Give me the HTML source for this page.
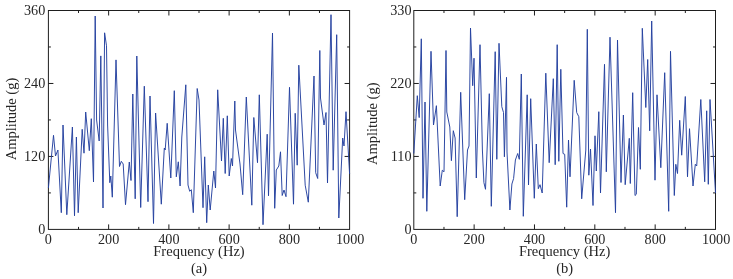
<!DOCTYPE html>
<html><head><meta charset="utf-8"><title>Amplitude vs Frequency</title>
<style>
html,body{margin:0;padding:0;background:#fff;}
svg{display:block}
text{font-family:"Liberation Serif","Times New Roman",serif;font-size:14.2px;fill:#262626;}
.t{font-size:14.5px}
</style></head><body>
<svg width="733" height="279" viewBox="0 0 733 279">
<rect width="733" height="279" fill="#fff"/>
<rect x="48.4" y="10.5" width="301.2" height="218.9" fill="none" stroke="#1e1e1e" stroke-width="1"/>
<path d="M78.52 229.4v-2.5M78.52 10.5v2.5M108.64 229.4v-5M108.64 10.5v5M138.76 229.4v-2.5M138.76 10.5v2.5M168.88 229.4v-5M168.88 10.5v5M199.00 229.4v-2.5M199.00 10.5v2.5M229.12 229.4v-5M229.12 10.5v5M259.24 229.4v-2.5M259.24 10.5v2.5M289.36 229.4v-5M289.36 10.5v5M319.48 229.4v-2.5M319.48 10.5v2.5M48.4 192.92h2.5M349.6 192.92h-2.5M48.4 156.43h5M349.6 156.43h-5M48.4 119.95h2.5M349.6 119.95h-2.5M48.4 83.47h5M349.6 83.47h-5M48.4 46.98h2.5M349.6 46.98h-2.5" stroke="#1e1e1e" stroke-width="1" fill="none"/>
<polyline points="48.4,188.0 53.5,135.3 55.5,156.0 57.9,150.0 61.3,212.7 63.0,125.0 66.8,214.7 72.4,127.0 74.5,215.8 76.4,137.0 78.2,212.7 82.2,129.3 84.0,153.2 85.7,112.0 89.3,150.7 91.3,118.7 93.5,182.0 95.2,16.0 96.6,120.0 99.2,141.0 100.8,55.9 103.0,208.0 104.6,32.8 106.5,45.8 107.6,125.0 109.8,182.7 110.8,176.0 112.3,197.2 116.0,59.9 119.5,166.5 121.3,161.3 123.2,164.0 125.5,204.7 129.3,162.0 131.0,180.5 132.8,94.0 135.2,198.8 136.8,56.0 140.7,207.5 144.3,86.2 148.0,201.7 150.0,96.0 153.5,223.5 155.6,113.0 161.3,204.2 164.3,148.0 165.2,150.0 167.2,123.3 170.8,178.0 174.3,90.7 176.3,176.8 178.3,161.8 180.1,186.0 181.8,137.0 185.8,84.8 188.0,185.0 189.7,191.3 191.3,189.7 193.3,212.7 197.2,88.5 199.0,100.0 203.0,207.7 204.7,156.8 206.7,222.7 208.3,185.0 210.2,210.0 213.8,171.0 215.5,188.0 217.7,89.8 221.5,161.0 223.3,118.3 225.2,173.5 227.3,115.8 229.2,176.0 231.3,158.5 232.5,166.0 233.6,135.0 234.8,101.0 235.5,130.0 240.0,164.0 242.7,194.7 246.3,97.0 251.8,205.2 253.8,117.5 257.5,162.7 259.3,94.8 263.0,224.7 267.2,134.2 268.5,195.8 272.5,33.0 274.7,208.3 276.3,170.0 278.8,166.0 280.5,151.8 282.2,195.5 284.0,190.0 286.0,196.7 289.5,87.3 293.5,204.2 295.2,113.3 297.2,165.2 298.8,65.2 305.2,185.2 308.3,202.2 314.0,76.0 315.7,172.7 317.7,178.5 319.8,50.5 320.5,98.0 324.0,125.0 326.0,112.5 327.5,183.0 331.0,14.7 333.2,170.2 336.7,34.7 338.8,218.0 342.7,138.0 344.0,146.0 346.0,111.7 349.6,174.0" fill="none" stroke="#24409f" stroke-width="0.95" stroke-linejoin="round"/>
<text x="48.4" y="243.6" text-anchor="middle">0</text>
<text x="108.6" y="243.6" text-anchor="middle">200</text>
<text x="168.9" y="243.6" text-anchor="middle">400</text>
<text x="229.1" y="243.6" text-anchor="middle">600</text>
<text x="289.4" y="243.6" text-anchor="middle">800</text>
<text x="350.2" y="243.6" text-anchor="middle">1000</text>
<text x="45.3" y="234.2" text-anchor="end">0</text>
<text x="45.3" y="161.3" text-anchor="end">120</text>
<text x="45.3" y="88.3" text-anchor="end">240</text>
<text x="45.3" y="15.3" text-anchor="end">360</text>
<text x="199.0" y="256.4" text-anchor="middle" class="t">Frequency (Hz)</text>
<text x="199.0" y="272.5" text-anchor="middle" class="t">(a)</text>
<text transform="translate(16.1,119.0) rotate(-90)" text-anchor="middle" class="t">Amplitude (g)</text>
<rect x="413.8" y="10.5" width="301.7" height="218.9" fill="none" stroke="#1e1e1e" stroke-width="1"/>
<path d="M443.97 229.4v-2.5M443.97 10.5v2.5M474.14 229.4v-5M474.14 10.5v5M504.31 229.4v-2.5M504.31 10.5v2.5M534.48 229.4v-5M534.48 10.5v5M564.65 229.4v-2.5M564.65 10.5v2.5M594.82 229.4v-5M594.82 10.5v5M624.99 229.4v-2.5M624.99 10.5v2.5M655.16 229.4v-5M655.16 10.5v5M685.33 229.4v-2.5M685.33 10.5v2.5M413.8 192.92h2.5M715.5 192.92h-2.5M413.8 156.43h5M715.5 156.43h-5M413.8 119.95h2.5M715.5 119.95h-2.5M413.8 83.47h5M715.5 83.47h-5M413.8 46.98h2.5M715.5 46.98h-2.5" stroke="#1e1e1e" stroke-width="1" fill="none"/>
<polyline points="413.8,153.5 417.3,95.7 419.2,117.6 421.3,38.8 423.0,198.3 425.0,102.0 426.8,211.3 431.0,51.3 433.5,125.0 436.4,105.7 440.2,186.0 442.3,170.2 444.0,171.8 446.0,50.5 446.8,112.0 449.8,127.0 451.4,160.7 453.3,130.7 455.1,138.0 457.2,216.7 460.7,92.3 464.7,199.7 467.5,150.0 469.0,146.0 470.5,28.0 472.7,85.7 474.0,58.2 476.3,178.0 480.0,44.7 482.4,150.0 483.9,182.6 485.5,189.3 489.3,93.7 491.3,206.3 495.2,51.7 496.8,159.3 499.0,43.3 501.8,106.7 503.5,112.5 504.4,156.8 506.5,77.3 507.0,152.0 509.9,210.0 511.9,184.0 513.6,178.5 515.4,160.0 517.7,153.5 519.3,159.3 521.3,74.0 523.3,216.3 527.2,94.8 528.5,185.0 530.7,98.7 534.3,198.3 536.3,144.0 538.3,188.7 540.0,184.7 542.2,193.0 545.8,73.2 549.2,162.7 553.3,78.7 555.2,164.7 557.2,44.7 558.8,161.3 560.8,69.3 563.0,153.5 564.7,154.3 566.7,207.2 568.5,140.0 570.0,176.8 574.2,80.3 576.7,112.5 578.8,116.7 581.7,198.8 585.8,150.0 587.3,29.3 588.8,175.2 590.5,149.0 593.0,205.5 595.0,135.8 596.3,171.0 598.8,111.7 600.5,193.0 604.5,64.3 606.3,171.8 610.0,37.2 615.5,212.7 617.5,40.0 621.0,182.5 623.4,115.0 625.2,184.7 629.3,138.3 630.3,183.5 632.7,92.7 635.0,195.5 636.3,194.3 638.5,127.5 640.3,169.3 642.3,28.3 645.8,107.5 647.7,59.5 649.7,130.8 651.7,21.0 655.0,180.2 657.0,94.8 660.8,167.7 664.7,72.7 668.7,211.3 670.5,51.3 674.3,195.5 675.8,164.3 677.5,173.5 679.7,120.3 681.7,155.2 685.3,96.5 687.5,176.8 689.5,128.7 693.0,186.0 695.3,164.3 696.7,166.0 700.8,99.5 704.7,181.8 706.7,110.8 708.3,184.3 710.0,99.5 715.5,193.0" fill="none" stroke="#24409f" stroke-width="0.95" stroke-linejoin="round"/>
<text x="413.8" y="243.6" text-anchor="middle">0</text>
<text x="474.1" y="243.6" text-anchor="middle">200</text>
<text x="534.5" y="243.6" text-anchor="middle">400</text>
<text x="594.8" y="243.6" text-anchor="middle">600</text>
<text x="655.2" y="243.6" text-anchor="middle">800</text>
<text x="716.1" y="243.6" text-anchor="middle">1000</text>
<text x="411.5" y="234.2" text-anchor="end">0</text>
<text x="411.5" y="161.3" text-anchor="end">110</text>
<text x="411.5" y="88.3" text-anchor="end">220</text>
<text x="411.5" y="15.3" text-anchor="end">330</text>
<text x="564.6" y="256.4" text-anchor="middle" class="t">Frequency (Hz)</text>
<text x="564.6" y="272.5" text-anchor="middle" class="t">(b)</text>
<text transform="translate(377.0,123.8) rotate(-90)" text-anchor="middle" class="t">Amplitude (g)</text>
</svg>
</body></html>
